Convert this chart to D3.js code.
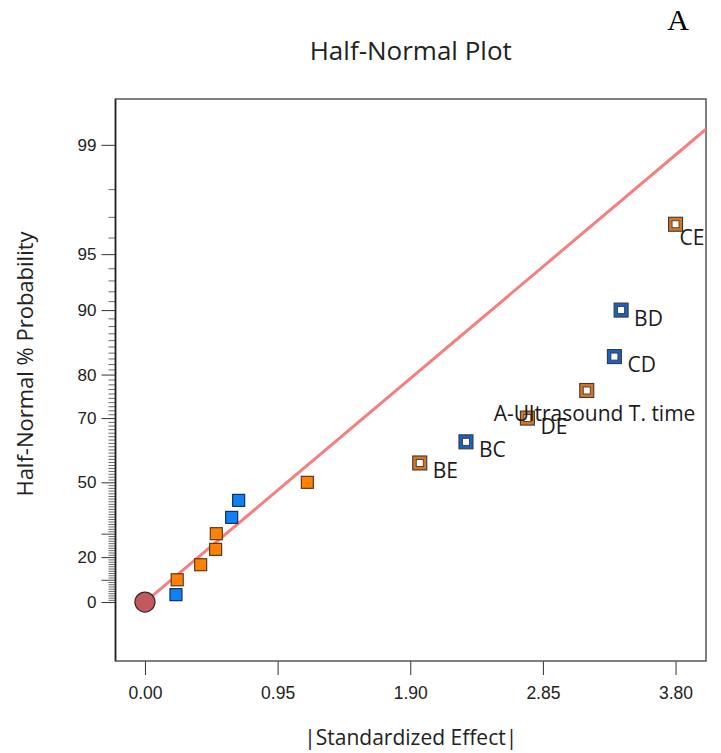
<!DOCTYPE html>
<html>
<head>
<meta charset="utf-8">
<script src="https://cdn.jsdelivr.net/npm/d3@7"></script>
<style>
  body { margin: 0; background: #fff; }
  svg { font-family: "Segoe UI", "Open Sans", sans-serif; }
  .tick text { fill: #222; }
</style>
</head>
<body>
<script>
// effects, in rank order
var effectNames = ["", "", "", "", "", "", "", "", "BE", "BC", "DE", "A-Ultrasound T. time", "CD", "BD", "CE"];
var effectValues = [0.222, 0.231, 0.399, 0.506, 0.511, 0.621, 0.671, 1.163, 1.968, 2.299, 2.739, 3.164, 3.362, 3.410, 3.800];
var effectProbs = [3.33, 10, 16.67, 23.33, 30, 36.67, 43.33, 50, 56.67, 63.33, 70, 76.67, 83.33, 90, 96.67];
var effectSigns = ["-", "+", "+", "+", "+", "-", "-", "+", "+", "-", "+", "+", "-", "-", "+"];

// error estimate at the origin and the fitted line
var originPoint = {x: 0, p: 0};
var lineEffect = [0, 4.02];
var lineProb = [0, 99.23];

var xTicks = [0, 0.95, 1.90, 2.85, 3.80];
var yTickLabels = [0, 20, 50, 70, 80, 90, 95, 99];
var yLongTicks = [10, 30];

const WIDTH = 721;
const HEIGHT = 753;
const LEFT = 115.5, RIGHT = 706, TOP = 99, BOTTOM = 661;

// inverse normal cdf (Acklam)
var normInv = function(p){
  var a=[-3.969683028665376e+01,2.209460984245205e+02,-2.759285104469687e+02,1.383577518672690e+02,-3.066479806614716e+01,2.506628277459239e+00];
  var b=[-5.447609879822406e+01,1.615858368580409e+02,-1.556989798598866e+02,6.680131188771972e+01,-1.328068155288572e+01];
  var c=[-7.784894002430293e-03,-3.223964580411365e-01,-2.400758277161838e+00,-2.549732539343734e+00,4.374664141464968e+00,2.938163982698783e+00];
  var d=[7.784695709041462e-03,3.224671290700398e-01,2.445134137142996e+00,3.754408661907416e+00];
  var pl = 0.02425, q, r;
  if (p < pl) {
    q = Math.sqrt(-2*Math.log(p));
    return (((((c[0]*q+c[1])*q+c[2])*q+c[3])*q+c[4])*q+c[5])/((((d[0]*q+d[1])*q+d[2])*q+d[3])*q+1);
  }
  if (p <= 1 - pl) {
    q = p - 0.5; r = q*q;
    return (((((a[0]*r+a[1])*r+a[2])*r+a[3])*r+a[4])*r+a[5])*q/(((((b[0]*r+b[1])*r+b[2])*r+b[3])*r+b[4])*r+1);
  }
  q = Math.sqrt(-2*Math.log(1-p));
  return -(((((c[0]*q+c[1])*q+c[2])*q+c[3])*q+c[4])*q+c[5])/((((d[0]*q+d[1])*q+d[2])*q+d[3])*q+1);
};

// half-normal % probability -> z
var halfZ = function(p){ return normInv(0.5 + p/200); };

var xScale = d3.scaleLinear().domain([-0.211, 4.018]).range([LEFT, RIGHT]);
var zScale = d3.scaleLinear().domain([-0.332, 2.834]).range([BOTTOM, TOP]);
var yScale = function(p){ return zScale(halfZ(p)); };

var renderChart = function(){
  var svg = d3.select('body').append('svg')
    .attr('width', WIDTH).attr('height', HEIGHT);

  svg.append('clipPath').attr('id', 'plot-clip')
    .append('rect')
    .attr('x', LEFT).attr('y', TOP)
    .attr('width', RIGHT - LEFT).attr('height', BOTTOM - TOP);

  // axes
  var xAxis = d3.axisBottom(xScale).tickValues(xTicks)
    .tickFormat(d3.format('.2f')).tickSize(14).tickPadding(12);
  var gx = svg.append('g').attr('transform', 'translate(0,' + BOTTOM + ')').call(xAxis);
  gx.select('.domain').remove();
  gx.selectAll('text').style('font-size', '17.5px');
  gx.selectAll('line').attr('stroke', '#333');

  var minorProbs = d3.range(1, 99).filter(function(p){
    return yTickLabels.indexOf(p) < 0 && yLongTicks.indexOf(p) < 0;
  });
  var yMinor = d3.axisLeft(zScale).tickValues(minorProbs.map(halfZ)).tickFormat('').tickSize(7);
  var gyMinor = svg.append('g').attr('transform', 'translate(' + LEFT + ',0)').call(yMinor);
  gyMinor.select('.domain').remove();
  gyMinor.selectAll('line').attr('stroke', '#444').attr('stroke-width', 0.8);

  var yLong = d3.axisLeft(zScale).tickValues(yLongTicks.map(halfZ)).tickFormat('').tickSize(14);
  var gyLong = svg.append('g').attr('transform', 'translate(' + LEFT + ',0)').call(yLong);
  gyLong.select('.domain').remove();
  gyLong.selectAll('line').attr('stroke', '#444');

  var yAxis = d3.axisLeft(zScale).tickValues(yTickLabels.map(halfZ))
    .tickFormat(function(z, i){ return yTickLabels[i]; })
    .tickSize(14).tickPadding(5);
  var gy = svg.append('g').attr('transform', 'translate(' + LEFT + ',0)').call(yAxis);
  gy.select('.domain').remove();
  gy.selectAll('text').style('font-size', '17px');
  gy.selectAll('line').attr('stroke', '#333');

  // frame
  svg.append('rect')
    .attr('x', LEFT).attr('y', TOP)
    .attr('width', RIGHT - LEFT).attr('height', BOTTOM - TOP)
    .attr('fill', 'none').attr('stroke', '#555').attr('stroke-width', 1.5);
  svg.append('line')
    .attr('x1', LEFT).attr('x2', LEFT).attr('y1', TOP).attr('y2', BOTTOM)
    .attr('stroke', '#222').attr('stroke-width', 1.6);

  var plot = svg.append('g').attr('clip-path', 'url(#plot-clip)');

  // fitted line
  var line = d3.line()
    .x(function(d){ return xScale(d.x); })
    .y(function(d){ return yScale(d.p); });
  plot.append('path')
    .attr('d', line(lineEffect.map(function(x, i){ return {x: x, p: lineProb[i]}; })))
    .attr('fill', 'none').attr('stroke', '#f47f7f').attr('stroke-width', 3);

  var points = effectValues.map(function(v, i){
    return {x: v, p: effectProbs[i], name: effectNames[i], sign: effectSigns[i]};
  });

  // plain squares
  plot.selectAll('rect.plain')
    .data(points.filter(function(d){ return !d.name; }))
    .enter().append('rect').attr('class', 'plain')
    .attr('x', function(d){ return xScale(d.x) - 6; })
    .attr('y', function(d){ return yScale(d.p) - 6; })
    .attr('width', 12).attr('height', 12)
    .attr('fill', function(d){ return d.sign === '+' ? '#ff8205' : '#0f80f5'; })
    .attr('stroke', function(d){ return d.sign === '+' ? '#5a3a1e' : '#13305a'; })
    .attr('stroke-width', 1.2);

  // labelled (significant) squares
  var named = points.filter(function(d){ return d.name; });
  var ng = plot.selectAll('g.named').data(named).enter().append('g').attr('class', 'named')
    .attr('transform', function(d){ return 'translate(' + xScale(d.x) + ',' + yScale(d.p) + ')'; });
  ng.append('rect')
    .attr('x', -7).attr('y', -7).attr('width', 14).attr('height', 14)
    .attr('fill', function(d){ return d.sign === '+' ? '#d97520' : '#1762c2'; })
    .attr('stroke', '#3a3a3a').attr('stroke-width', 1.1);
  ng.append('rect')
    .attr('x', -3.5).attr('y', -3.5).attr('width', 7).attr('height', 7)
    .attr('fill', '#fff').attr('stroke', '#3a3a3a').attr('stroke-width', 0.9);

  var labelOffset = {'CE': [4, 21], 'A-Ultrasound T. time': [-93, 31]};
  ng.append('text')
    .attr('x', function(d){ return (labelOffset[d.name] || [13, 15.5])[0]; })
    .attr('y', function(d){ return (labelOffset[d.name] || [13, 15.5])[1]; })
    .style('font-size', '21px').attr('fill', '#1a1a1a')
    .text(function(d){ return d.name; });

  // origin marker
  plot.append('circle')
    .attr('cx', xScale(originPoint.x)).attr('cy', yScale(originPoint.p)).attr('r', 10)
    .attr('fill', '#bf5a5e').attr('stroke', '#3a2a2a').attr('stroke-width', 1.3);

  // titles
  svg.append('text').attr('x', (LEFT + RIGHT) / 2).attr('y', 60)
    .attr('text-anchor', 'middle').style('font-size', '26px').attr('fill', '#222')
    .text('Half-Normal Plot');
  svg.append('text').attr('x', 678).attr('y', 30)
    .attr('text-anchor', 'middle').style('font-family', '"Liberation Serif", "Times New Roman", serif')
    .style('font-size', '30px').attr('fill', '#000')
    .text('A');
  svg.append('text').attr('x', (LEFT + RIGHT) / 2).attr('y', 745)
    .attr('text-anchor', 'middle').style('font-size', '21px').attr('fill', '#222')
    .text('|Standardized Effect|');
  svg.append('text')
    .attr('transform', 'translate(33,364) rotate(-90)')
    .attr('text-anchor', 'middle').style('font-size', '22px').attr('fill', '#222')
    .text('Half-Normal % Probability');
};

window.onload = renderChart;
</script>
</body>
</html>
